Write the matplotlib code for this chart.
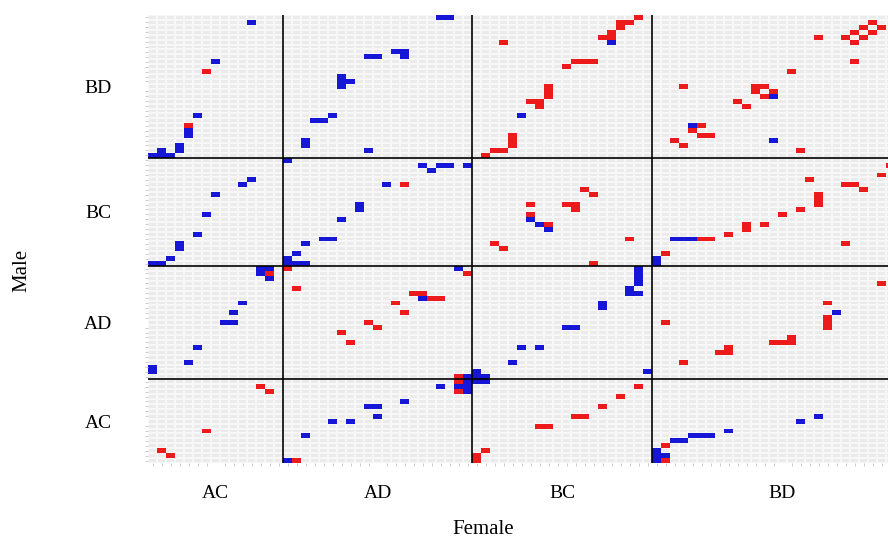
import numpy as np
import matplotlib.pyplot as plt
from matplotlib.colors import ListedColormap

# groups and number of individuals in each
female_groups = ['AC', 'AD', 'BC', 'BD']
female_sizes = [15, 21, 20, 29]
male_groups = ['BD', 'BC', 'AD', 'AC']   # top to bottom
male_sizes = [29, 22, 23, 17]

# (row from top, column from left) of the coloured cells
red_cells = [
    (11, 6), (22, 4),
    (0, 54), (1, 52), (1, 53), (2, 52), (3, 51), (4, 50), (4, 51), (5, 39),
    (9, 47), (9, 48), (9, 49), (10, 46), (14, 44), (15, 44), (16, 44),
    (17, 42), (17, 43), (18, 43), (24, 40), (25, 40), (26, 40), (27, 38),
    (27, 39), (28, 37),
    (1, 80), (2, 79), (2, 81), (3, 78), (3, 80), (4, 77), (4, 79), (5, 78),
    (4, 74), (9, 78), (11, 71), (14, 67), (14, 68), (15, 67), (15, 69),
    (16, 68), (17, 65), (18, 66), (14, 59), (22, 61), (23, 60), (24, 61),
    (24, 62), (25, 58), (26, 59), (27, 72),
    (35, 48), (36, 49), (38, 46), (38, 47), (39, 47), (38, 42), (40, 42),
    (42, 44), (46, 38), (47, 39), (50, 49), (45, 53),
    (48, 57), (45, 61), (45, 62), (44, 64), (42, 66), (43, 66), (42, 68),
    (40, 70), (39, 72), (36, 74), (37, 74), (38, 74), (34, 77), (34, 78),
    (35, 79), (32, 81), (46, 77), (33, 73), (30, 82),
    (34, 28),
    (52, 13),
    (51, 15), (55, 16), (64, 21), (66, 22), (62, 24), (63, 25), (58, 27),
    (60, 28), (56, 29), (56, 30), (57, 31), (57, 32), (73, 34), (52, 35),
    (62, 57), (70, 59), (68, 63), (68, 64), (67, 64), (66, 69), (66, 70),
    (66, 71), (65, 71), (61, 75), (62, 75), (63, 75), (58, 75), (54, 81),
    (75, 12), (76, 13), (84, 6), (88, 1), (89, 2),
    (74, 34), (76, 34), (90, 16),
    (88, 37), (89, 36), (90, 36), (83, 43), (83, 44), (81, 47), (81, 48),
    (79, 50), (77, 52), (75, 54),
    (87, 57), (90, 57),
]

blue_cells = [
    (1, 11), (9, 7), (20, 5), (23, 4), (24, 4), (26, 3), (27, 3), (27, 1),
    (28, 0), (28, 1), (28, 2),
    (0, 32), (0, 33), (8, 24), (8, 25), (7, 27), (7, 28), (8, 28), (12, 21),
    (13, 21), (14, 21), (13, 22), (21, 18), (21, 19), (20, 20), (25, 17),
    (26, 17), (27, 24),
    (5, 51), (20, 41),
    (16, 69), (22, 60), (25, 69),
    (33, 11), (34, 10), (36, 7), (40, 6), (44, 5), (46, 3), (47, 3), (49, 2),
    (50, 0), (50, 1),
    (29, 15), (30, 30), (31, 31), (30, 32), (30, 33), (30, 35), (34, 26),
    (38, 23), (39, 23), (41, 21), (45, 19), (45, 20), (46, 17), (48, 16),
    (49, 15), (50, 15), (50, 16), (50, 17),
    (41, 42), (42, 43), (43, 44),
    (49, 56), (50, 56), (45, 58), (45, 59), (45, 60),
    (51, 12), (51, 13), (52, 12), (53, 13), (58, 10), (60, 9), (62, 8),
    (62, 9), (67, 5), (70, 4), (71, 0), (72, 0),
    (51, 34), (57, 30), (73, 35),
    (51, 54), (52, 54), (53, 54), (54, 54), (55, 53), (56, 53), (56, 54),
    (58, 50), (59, 50), (63, 46), (63, 47), (67, 43), (67, 41), (70, 40),
    (72, 36), (73, 36), (73, 37), (72, 55),
    (60, 76),
    (75, 32), (74, 35), (75, 35), (75, 34), (76, 35), (78, 28), (79, 24),
    (79, 25), (81, 25), (82, 22), (82, 20), (85, 17), (90, 15),
    (74, 36), (74, 37),
    (88, 56), (89, 56), (90, 56), (89, 57), (86, 58), (86, 59), (85, 60),
    (85, 61), (85, 62), (84, 64), (82, 72), (81, 74),
]

n_rows = sum(male_sizes)
n_cols = sum(female_sizes)
grid = np.zeros((n_rows, n_cols))
for r, c in red_cells:
    grid[r, c] = 1
for r, c in blue_cells:
    grid[r, c] = 2

fig = plt.figure(figsize=(8.88, 5.41), dpi=100)
ax = fig.add_axes([148 / 888, 78 / 541, 765 / 888, 448 / 541])

xe = np.arange(n_cols + 1)
ye = np.arange(n_rows + 1)
# empty background cells with faint grid, then coloured cells on top
ax.pcolormesh(xe, ye, np.zeros_like(grid), cmap=ListedColormap(['#ebebeb']),
              edgecolors='#f7f7f7', linewidth=0.3)
marks = np.ma.masked_equal(grid, 0)
ax.pcolormesh(xe, ye, marks, cmap=ListedColormap(['#ec1a1a', '#1616d6']),
              vmin=1, vmax=2, linewidth=0)
ax.set_xlim(0, n_cols)
ax.set_ylim(n_rows, 0)

# block separators
x_edges = np.cumsum(female_sizes)
y_edges = np.cumsum(male_sizes)
for x in x_edges[:-1]:
    ax.axvline(x, color='black', lw=1.2)
for y in y_edges[:-1]:
    ax.axhline(y, color='black', lw=1.2)

x_centers = x_edges - np.array(female_sizes) / 2
y_centers = y_edges - np.array(male_sizes) / 2
ax.set_xticks(x_centers)
ax.set_xticklabels(female_groups, fontfamily='Liberation Serif', fontsize=14)
ax.set_yticks(y_centers)
ax.set_yticklabels(male_groups, fontfamily='Liberation Serif', fontsize=14)
ax.tick_params(axis='both', which='major', length=0)
ax.tick_params(axis='x', which='major', pad=16)
ax.tick_params(axis='y', which='major', pad=26)

ax.set_xticks(np.arange(n_cols) + 0.5, minor=True)
ax.set_yticks(np.arange(n_rows) + 0.5, minor=True)
ax.tick_params(which='minor', length=2.5, width=0.6, color='#c4c4c4')

for s in ax.spines.values():
    s.set_visible(False)

fig.text(483 / 888, 1 - 530 / 541, 'Female', ha='center', va='center',
         fontfamily='Liberation Serif', fontsize=15)
fig.text(22 / 888, 1 - 270 / 541, 'Male', ha='center', va='center',
         rotation=90, fontfamily='Liberation Serif', fontsize=15)

fig.savefig('out.png', dpi=100)
